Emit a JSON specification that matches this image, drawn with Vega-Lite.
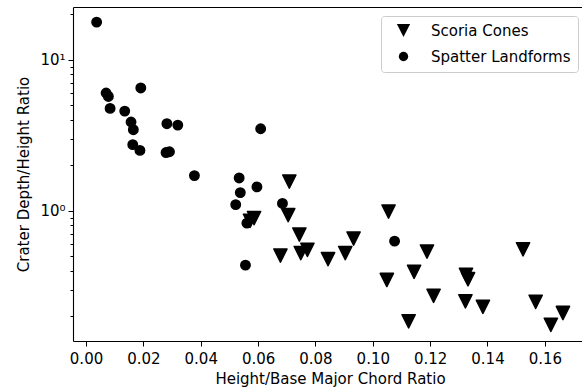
{
  "$schema": "https://vega.github.io/schema/vega-lite/v6.json",
  "width": 514,
  "height": 334,
  "autosize": "none",
  "padding": {"left": 73, "top": 7, "right": 0, "bottom": 49},
  "background": "white",
  "data": {"values": [
    {"t": "Spatter Landforms", "x": 0.0037, "y": 17.7},
    {"t": "Spatter Landforms", "x": 0.0070, "y": 6.02},
    {"t": "Spatter Landforms", "x": 0.0078, "y": 5.71},
    {"t": "Spatter Landforms", "x": 0.0084, "y": 4.76},
    {"t": "Spatter Landforms", "x": 0.0191, "y": 6.50},
    {"t": "Spatter Landforms", "x": 0.0135, "y": 4.57},
    {"t": "Spatter Landforms", "x": 0.0157, "y": 3.87},
    {"t": "Spatter Landforms", "x": 0.0165, "y": 3.44},
    {"t": "Spatter Landforms", "x": 0.0163, "y": 2.74},
    {"t": "Spatter Landforms", "x": 0.0188, "y": 2.51},
    {"t": "Spatter Landforms", "x": 0.0282, "y": 3.77},
    {"t": "Spatter Landforms", "x": 0.0320, "y": 3.69},
    {"t": "Spatter Landforms", "x": 0.0279, "y": 2.43},
    {"t": "Spatter Landforms", "x": 0.0291, "y": 2.46},
    {"t": "Spatter Landforms", "x": 0.0609, "y": 3.49},
    {"t": "Spatter Landforms", "x": 0.0378, "y": 1.71},
    {"t": "Spatter Landforms", "x": 0.0534, "y": 1.65},
    {"t": "Spatter Landforms", "x": 0.0596, "y": 1.44},
    {"t": "Spatter Landforms", "x": 0.0538, "y": 1.32},
    {"t": "Spatter Landforms", "x": 0.0522, "y": 1.10},
    {"t": "Spatter Landforms", "x": 0.0685, "y": 1.12},
    {"t": "Spatter Landforms", "x": 0.0556, "y": 0.437},
    {"t": "Spatter Landforms", "x": 0.0561, "y": 0.829},
    {"t": "Spatter Landforms", "x": 0.1076, "y": 0.630},
    {"t": "Scoria Cones", "x": 0.0709, "y": 1.56},
    {"t": "Scoria Cones", "x": 0.0572, "y": 0.859},
    {"t": "Scoria Cones", "x": 0.0586, "y": 0.895},
    {"t": "Scoria Cones", "x": 0.0705, "y": 0.936},
    {"t": "Scoria Cones", "x": 0.0744, "y": 0.697},
    {"t": "Scoria Cones", "x": 0.0678, "y": 0.506},
    {"t": "Scoria Cones", "x": 0.0749, "y": 0.525},
    {"t": "Scoria Cones", "x": 0.0772, "y": 0.552},
    {"t": "Scoria Cones", "x": 0.0844, "y": 0.479},
    {"t": "Scoria Cones", "x": 0.0904, "y": 0.525},
    {"t": "Scoria Cones", "x": 0.0933, "y": 0.656},
    {"t": "Scoria Cones", "x": 0.1055, "y": 0.989},
    {"t": "Scoria Cones", "x": 0.1049, "y": 0.349},
    {"t": "Scoria Cones", "x": 0.1144, "y": 0.395},
    {"t": "Scoria Cones", "x": 0.1189, "y": 0.538},
    {"t": "Scoria Cones", "x": 0.1125, "y": 0.186},
    {"t": "Scoria Cones", "x": 0.1212, "y": 0.274},
    {"t": "Scoria Cones", "x": 0.1325, "y": 0.377},
    {"t": "Scoria Cones", "x": 0.1332, "y": 0.353},
    {"t": "Scoria Cones", "x": 0.1323, "y": 0.252},
    {"t": "Scoria Cones", "x": 0.1384, "y": 0.232},
    {"t": "Scoria Cones", "x": 0.1524, "y": 0.557},
    {"t": "Scoria Cones", "x": 0.1568, "y": 0.250},
    {"t": "Scoria Cones", "x": 0.1621, "y": 0.176},
    {"t": "Scoria Cones", "x": 0.1663, "y": 0.211}
  ]},
  "encoding": {
    "y": {"field": "y", "type": "quantitative",
          "scale": {"type": "log", "domain": [0.1377, 22.3], "nice": false},
          "axis": {"orient": "left", "title": "Crater Depth/Height Ratio",
                   "values": [0.2, 0.3, 0.4, 0.5, 0.6, 0.7, 0.8, 0.9, 1, 2, 3, 4, 5, 6, 7, 8, 9, 10, 20],
                   "labelExpr": "datum.value == 1 ? '10⁰' : (datum.value == 10 ? '10¹' : '')",
                   "tickSize": {"condition": {"test": "datum.value == 1 || datum.value == 10", "value": 5}, "value": 3},
                   "labelPadding": 3, "titlePadding": 8}}
  },
  "layer": [
    {
      "mark": {"type": "point", "filled": true, "opacity": 0, "strokeWidth": 0},
      "encoding": {
        "x": {"field": "x", "type": "quantitative",
              "scale": {"domain": [-0.00454, 0.1747], "nice": false, "zero": false},
              "axis": {"orient": "top", "labels": false, "ticks": false, "title": null, "domain": true}}
      }
    },
    {
      "mark": {"type": "point", "filled": true, "fill": "black", "stroke": "black", "strokeWidth": 1.5, "strokeJoin": "round", "opacity": 1},
      "encoding": {
        "x": {"field": "x", "type": "quantitative",
              "axis": {"orient": "bottom", "title": "Height/Base Major Chord Ratio",
                       "values": [0, 0.02, 0.04, 0.06, 0.08, 0.1, 0.12, 0.14, 0.16],
                       "format": ".2f", "tickSize": 5, "labelPadding": 5, "titlePadding": 5}},
        "shape": {"field": "t", "type": "nominal",
                  "scale": {"domain": ["Scoria Cones", "Spatter Landforms"], "range": ["M-1,-1L1,-1L0,1Z", "circle"]},
                  "legend": {"title": null}},
        "size": {"field": "t", "type": "nominal",
                 "scale": {"domain": ["Scoria Cones", "Spatter Landforms"], "range": [175, 88]},
                 "legend": {"title": null}}
      }
    }
  ],
  "resolve": {"axis": {"x": "independent"}},
  "config": {
    "view": {"stroke": null},
    "font": "DejaVu Sans",
    "axis": {
      "grid": false,
      "domainColor": "#000000",
      "domainWidth": 1.1,
      "tickColor": "#000000",
      "tickWidth": 1,
      "labelFont": "DejaVu Sans",
      "labelFontSize": 15,
      "labelColor": "#000000",
      "titleFont": "DejaVu Sans",
      "titleFontSize": 15,
      "titleFontWeight": "normal",
      "titleColor": "#000000",
      "labelFlush": false,
      "labelOverlap": false
    },
    "legend": {
      "orient": "none",
      "legendX": 308,
      "legendY": 9,
      "padding": 7,
      "symbolOffset": 8,
      "labelOffset": 20,
      "rowPadding": 7,
      "labelFont": "DejaVu Sans",
      "labelFontSize": 15,
      "labelColor": "#000000",
      "symbolFillColor": "#000000",
      "symbolStrokeColor": "#000000",
      "symbolStrokeWidth": 1.5,
      "strokeColor": "#cccccc",
      "fillColor": "rgba(255,255,255,0.8)",
      "cornerRadius": 3
    }
  }
}
